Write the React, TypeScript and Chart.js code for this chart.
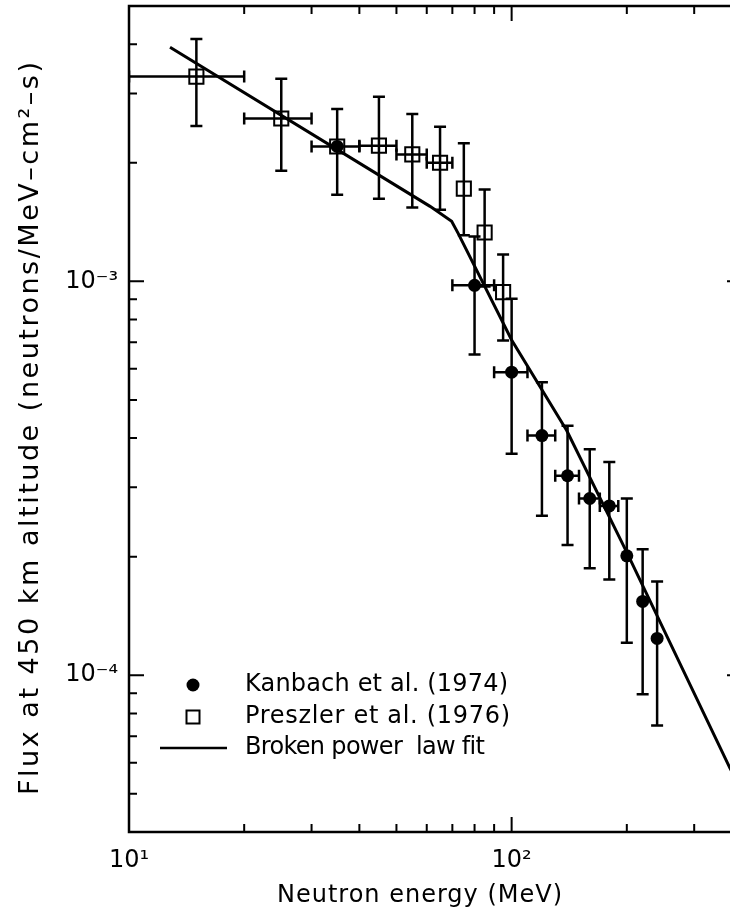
import React, { useEffect, useRef } from "react";
import { Chart, registerables } from "chart.js";

Chart.register(...registerables);

// ---------------- data ----------------
// Kanbach et al. (1974) – filled circles
const kanbachEnergy = [35, 80, 100, 120, 140, 160, 180, 200, 220, 240];
const kanbachFlux = [2.2e-3, 9.77e-4, 5.88e-4, 4.06e-4, 3.21e-4, 2.81e-4, 2.69e-4, 2.01e-4, 1.54e-4, 1.24e-4];
const kanbachFluxHigh = [null, 1.3e-3, 9.03e-4, 5.54e-4, 4.3e-4, 3.75e-4, 3.48e-4, 2.81e-4, 2.09e-4, 1.73e-4];
const kanbachFluxLow = [null, 6.52e-4, 3.65e-4, 2.54e-4, 2.14e-4, 1.87e-4, 1.75e-4, 1.21e-4, 8.95e-5, 7.46e-5];
const kanbachEnergyLow = [null, 70, 90, 110, 130, 150, 170, null, null, null];
const kanbachEnergyHigh = [null, 90, 110, 130, 150, 170, 190, null, null, null];

// Preszler et al. (1976) – open squares
const preszlerEnergy = [15, 25, 35, 45, 55, 65, 75, 85, 95];
const preszlerFlux = [3.31e-3, 2.59e-3, 2.2e-3, 2.21e-3, 2.1e-3, 2.0e-3, 1.72e-3, 1.33e-3, 9.39e-4];
const preszlerFluxHigh = [4.12e-3, 3.27e-3, 2.74e-3, 2.94e-3, 2.66e-3, 2.47e-3, 2.24e-3, 1.71e-3, 1.17e-3];
const preszlerFluxLow = [2.48e-3, 1.91e-3, 1.66e-3, 1.62e-3, 1.54e-3, 1.52e-3, 1.31e-3, 9.7e-4, 7.08e-4];
const preszlerEnergyLow = [10, 20, 30, 40, 50, 60, null, null, null];
const preszlerEnergyHigh = [20, 30, 40, 50, 60, 70, null, null, null];

// Broken power law fit
const fitEnergy = [12.8, 61.2, 69.7, 72.6, 100, 139.3, 200, 372, 400];
const fitFlux = [3.93e-3, 1.55e-3, 1.42e-3, 1.32e-3, 7.1e-4, 4.18e-4, 2.05e-4, 5.81e-5, 5.1e-5];

// axes
const xRange = [10, 400];
const yRange = [4e-5, 5e-3];
const xLabelTicks = [10, 100];
const yLabelTicks = [1e-4, 1e-3];
const xTickLabels = ["10¹", "10²"];
const yTickLabels = ["10⁻⁴", "10⁻³"];

const xTitle = "Neutron energy (MeV)";
const yTitle = "Flux at 450 km altitude (neutrons/MeV–cm²–s)";
const legendLabels = ["Kanbach et al. (1974)", "Preszler et al. (1976)", "Broken power  law fit"];

const FONT = "'DejaVu Sans', 'Liberation Sans', sans-serif";
const INK = "#000";

function minorValues(lo: number, hi: number) {
  const out: number[] = [];
  let d = Math.pow(10, Math.floor(Math.log10(lo)));
  while (d <= hi) {
    for (let m = 1; m <= 9; m++) {
      const v = m * d;
      if (v > lo * 1.0001 && v < hi * 0.9999) out.push(v);
    }
    d *= 10;
  }
  return out;
}

function spacedText(ctx: CanvasRenderingContext2D, text: string, x: number, y: number, width: number) {
  ctx.save();
  (ctx as any).letterSpacing = "0px";
  const natural = ctx.measureText(text).width;
  const ls = (width - natural) / Math.max(1, text.length - 1);
  (ctx as any).letterSpacing = ls + "px";
  ctx.textAlign = "left";
  ctx.fillText(text, x, y);
  ctx.restore();
}

const errorBarPlugin = {
  id: "errorBars",
  beforeDatasetsDraw(chart: any) {
    const { ctx, chartArea, scales } = chart;
    const xs = scales.x, ys = scales.y;
    ctx.save();
    ctx.beginPath();
    ctx.rect(chartArea.left, chartArea.top, chartArea.right - chartArea.left, chartArea.bottom - chartArea.top);
    ctx.clip();
    ctx.strokeStyle = INK;
    ctx.lineWidth = 2.5;
    const cap = 6;
    const draw = (E: number[], F: number[], Fh: any[], Fl: any[], El: any[], Eh: any[]) => {
      E.forEach((e, i) => {
        const px = xs.getPixelForValue(e);
        const py = ys.getPixelForValue(F[i]);
        ctx.beginPath();
        if (Fh[i] != null && Fl[i] != null) {
          const yt = ys.getPixelForValue(Fh[i]);
          const yb = ys.getPixelForValue(Fl[i]);
          ctx.moveTo(px, yt); ctx.lineTo(px, yb);
          ctx.moveTo(px - cap, yt); ctx.lineTo(px + cap, yt);
          ctx.moveTo(px - cap, yb); ctx.lineTo(px + cap, yb);
        }
        if (El[i] != null && Eh[i] != null) {
          const xl = xs.getPixelForValue(El[i]);
          const xr = xs.getPixelForValue(Eh[i]);
          ctx.moveTo(xl, py); ctx.lineTo(xr, py);
          ctx.moveTo(xl, py - cap); ctx.lineTo(xl, py + cap);
          ctx.moveTo(xr, py - cap); ctx.lineTo(xr, py + cap);
        }
        ctx.stroke();
      });
    };
    draw(preszlerEnergy, preszlerFlux, preszlerFluxHigh, preszlerFluxLow, preszlerEnergyLow, preszlerEnergyHigh);
    draw(kanbachEnergy, kanbachFlux, kanbachFluxHigh, kanbachFluxLow, kanbachEnergyLow, kanbachEnergyHigh);
    ctx.restore();
  },
};

const framePlugin = {
  id: "frameAndText",
  afterDraw(chart: any) {
    const { ctx, chartArea, scales } = chart;
    const xs = scales.x, ys = scales.y;
    const { left, right, top, bottom } = chartArea;
    ctx.save();
    ctx.strokeStyle = INK;
    ctx.lineWidth = 2.5;
    ctx.strokeRect(left, top, right - left, bottom - top);

    ctx.lineWidth = 2;
    const MAJ = 15, MIN = 8;
    ctx.beginPath();
    const xMajor = xLabelTicks.filter((v) => v > xRange[0] && v < xRange[1]);
    const yMajor = yLabelTicks.filter((v) => v > yRange[0] && v < yRange[1]);
    minorValues(xRange[0], xRange[1]).forEach((v) => {
      const len = xMajor.some((m) => Math.abs(m - v) / m < 1e-6) ? MAJ : MIN;
      const p = xs.getPixelForValue(v);
      ctx.moveTo(p, bottom); ctx.lineTo(p, bottom - len);
      ctx.moveTo(p, top); ctx.lineTo(p, top + len);
    });
    minorValues(yRange[0], yRange[1]).forEach((v) => {
      const len = yMajor.some((m) => Math.abs(m - v) / m < 1e-6) ? MAJ : MIN;
      const p = ys.getPixelForValue(v);
      ctx.moveTo(left, p); ctx.lineTo(left + len, p);
      ctx.moveTo(right, p); ctx.lineTo(right - len, p);
    });
    ctx.stroke();

    // legend
    ctx.fillStyle = INK;
    ctx.font = `24px ${FONT}`;
    ctx.textBaseline = "middle";
    const lx = 193, tx = 245;
    const rows = [685, 717, 748];
    ctx.beginPath();
    ctx.arc(lx, rows[0], 6.5, 0, Math.PI * 2);
    ctx.fill();
    ctx.lineWidth = 2;
    ctx.strokeRect(lx - 6.5, rows[1] - 6.5, 13, 13);
    ctx.lineWidth = 2.5;
    ctx.beginPath();
    ctx.moveTo(160, rows[2]); ctx.lineTo(227, rows[2]);
    ctx.stroke();
    spacedText(ctx, legendLabels[0], tx, rows[0], 263);
    spacedText(ctx, legendLabels[1], tx, rows[1], 265);
    spacedText(ctx, legendLabels[2], tx, rows[2], 240);

    // axis titles
    ctx.font = `24px ${FONT}`;
    spacedText(ctx, xTitle, 277, 896, 285);
    ctx.font = `27px ${FONT}`;
    ctx.save();
    ctx.translate(31, 795);
    ctx.rotate(-Math.PI / 2);
    spacedText(ctx, yTitle, 0, 0, 733);
    ctx.restore();

    ctx.restore();
  },
};

export default function App() {
  const canvasRef = useRef<HTMLCanvasElement | null>(null);

  useEffect(() => {
    const canvas = canvasRef.current;
    if (!canvas) return;
    const chart = new Chart(canvas, {
      type: "scatter",
      data: {
        datasets: [
          {
            label: "Broken power law fit",
            data: fitEnergy.map((x, i) => ({ x, y: fitFlux[i] })),
            showLine: true,
            borderColor: INK,
            borderWidth: 3,
            pointRadius: 0,
            tension: 0,
            order: 3,
          },
          {
            label: legendLabels[1],
            data: preszlerEnergy.map((x, i) => ({ x, y: preszlerFlux[i] })),
            pointStyle: "rect",
            pointRadius: 10,
            backgroundColor: "rgba(0,0,0,0)",
            borderColor: INK,
            borderWidth: 2,
            order: 2,
          },
          {
            label: legendLabels[0],
            data: kanbachEnergy.map((x, i) => ({ x, y: kanbachFlux[i] })),
            pointStyle: "circle",
            pointRadius: 6.5,
            backgroundColor: INK,
            borderColor: INK,
            borderWidth: 0,
            order: 1,
          },
        ],
      },
      options: {
        responsive: false,
        animation: false,
        devicePixelRatio: 1,
        layout: { autoPadding: false, padding: { top: 6, right: 18, left: 0, bottom: 0 } },
        plugins: { legend: { display: false }, tooltip: { enabled: false } },
        scales: {
          x: {
            type: "logarithmic",
            min: xRange[0],
            max: xRange[1],
            grid: { display: false, drawTicks: false },
            border: { display: false },
            afterBuildTicks: (s: any) => {
              s.ticks = xLabelTicks.map((v) => ({ value: v }));
            },
            afterFit: (s: any) => {
              s.height = 89;
              s.paddingLeft = 0;
              s.paddingRight = 0;
              s.paddingTop = 0;
              s.paddingBottom = 0;
            },
            ticks: {
              autoSkip: false,
              maxRotation: 0,
              padding: 14,
              color: INK,
              font: { family: FONT, size: 24 },
              callback: (v: any) => {
                const i = xLabelTicks.findIndex((t) => Math.abs(t - v) / t < 1e-6);
                return i >= 0 ? xTickLabels[i] : "";
              },
            },
          },
          y: {
            type: "logarithmic",
            min: yRange[0],
            max: yRange[1],
            grid: { display: false, drawTicks: false },
            border: { display: false },
            afterBuildTicks: (s: any) => {
              s.ticks = yLabelTicks.map((v) => ({ value: v }));
            },
            afterFit: (s: any) => {
              s.width = 129;
              s.paddingLeft = 0;
              s.paddingRight = 0;
              s.paddingTop = 0;
              s.paddingBottom = 0;
            },
            ticks: {
              autoSkip: false,
              padding: 11,
              color: INK,
              font: { family: FONT, size: 24 },
              callback: (v: any) => {
                const i = yLabelTicks.findIndex((t) => Math.abs(t - v) / t < 1e-6);
                return i >= 0 ? yTickLabels[i] : "";
              },
            },
          },
        },
      },
      plugins: [errorBarPlugin, framePlugin],
    });
    return () => chart.destroy();
  }, []);

  return (
    <div
      style={{
        position: "fixed",
        left: 0,
        top: 0,
        width: 730,
        height: 921,
        overflow: "hidden",
        background: "#fff",
      }}
    >
      <canvas ref={canvasRef} width={760} height={921} style={{ display: "block" }} />
    </div>
  );
}
